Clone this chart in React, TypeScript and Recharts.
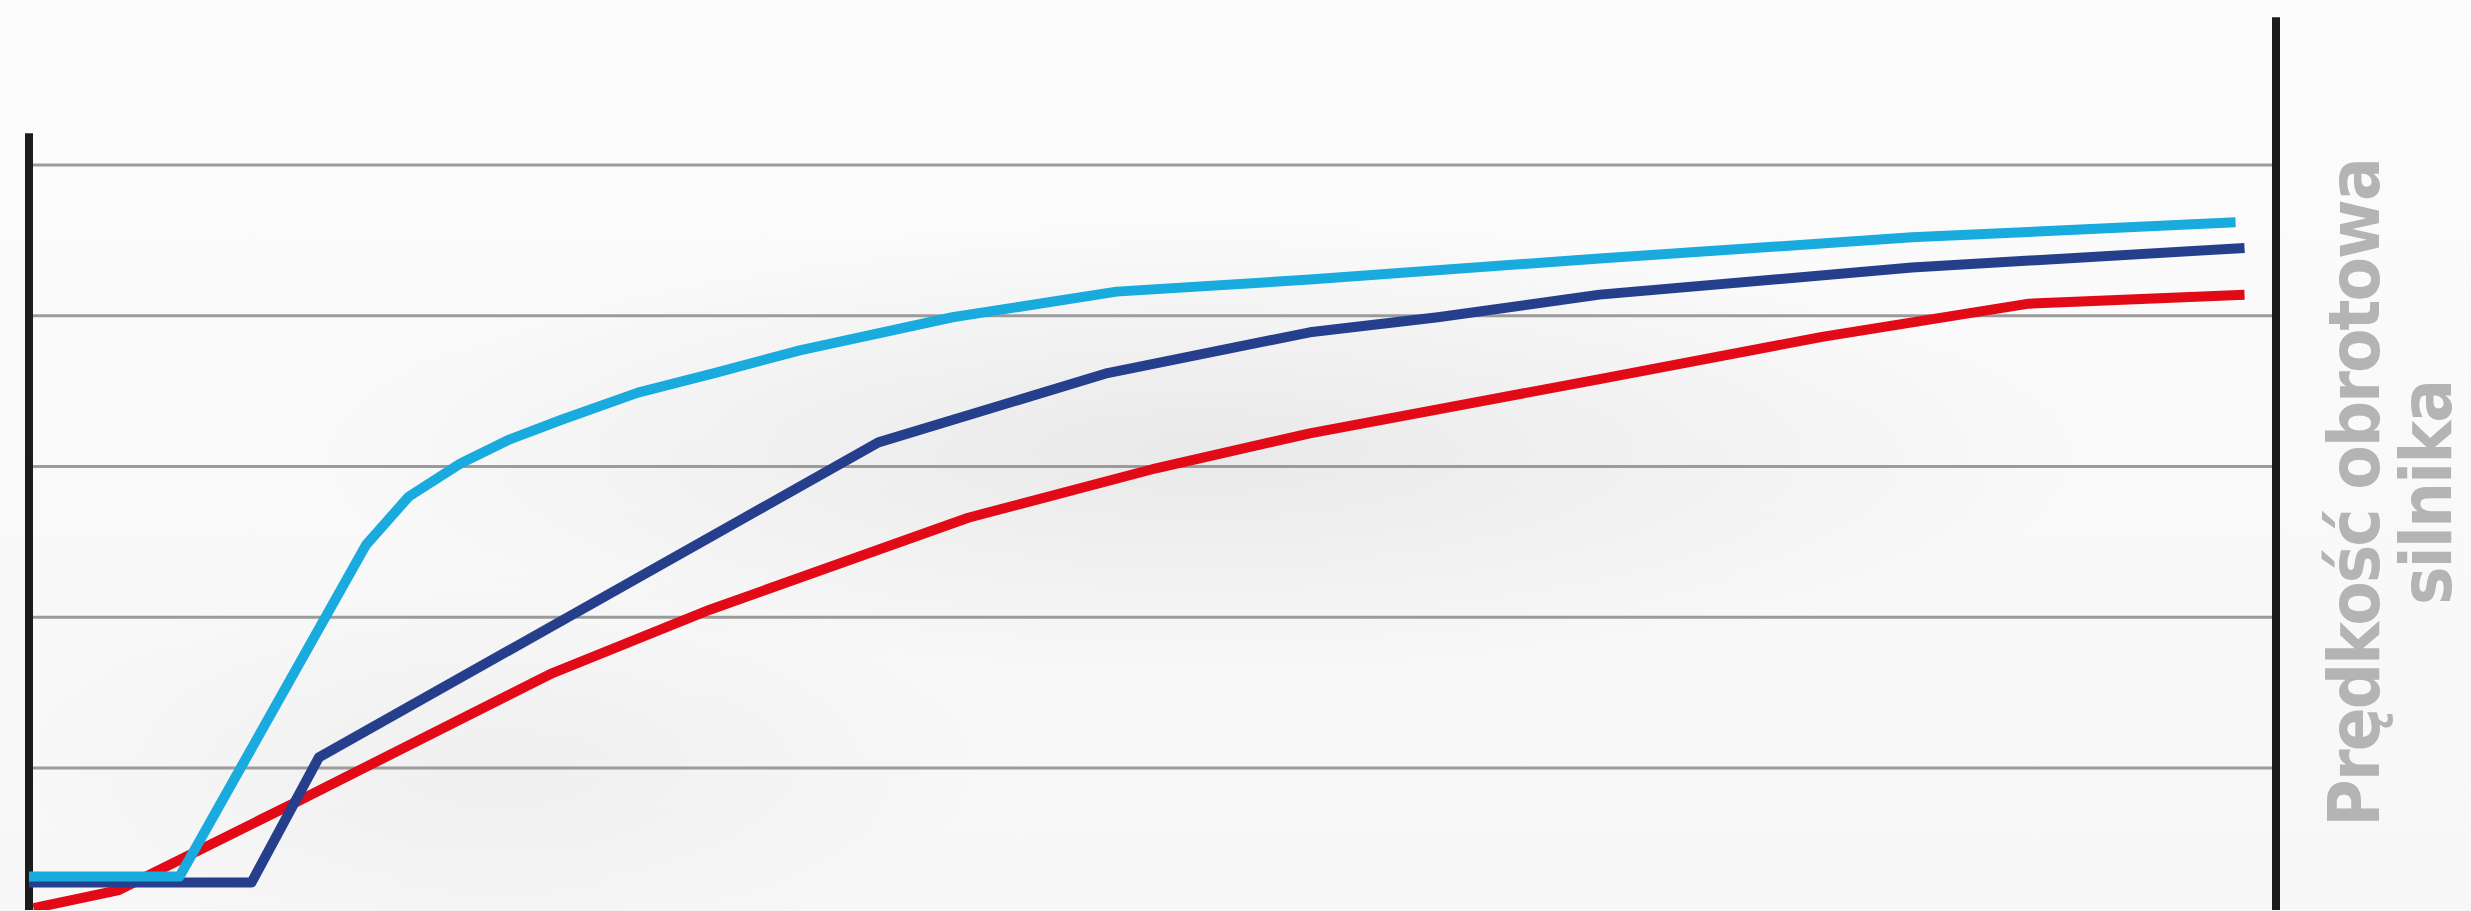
import React from "react";
import { LineChart, Line, XAxis, YAxis, ReferenceLine } from "recharts";

// Time axis (0–100) and speed values (grid units 1–5) for each response curve.
const lightBlueTime = [0, 6.7, 15.0, 16.9, 19.2, 21.4, 23.7, 27.1, 30.5, 34.3, 41.1, 48.4, 57.0, 69.9, 83.8, 98.2];
const lightBlueSpeed = [0.28, 0.28, 2.48, 2.8, 3.02, 3.18, 3.31, 3.49, 3.62, 3.77, 3.99, 4.16, 4.24, 4.38, 4.52, 4.62];

const darkBlueTime = [0, 9.9, 12.9, 37.8, 48.0, 57.0, 62.7, 69.9, 83.8, 98.6];
const darkBlueSpeed = [0.24, 0.24, 1.07, 3.16, 3.62, 3.89, 3.99, 4.14, 4.32, 4.45];

const redTime = [0.2, 4.0, 12.1, 23.3, 30.3, 41.8, 50.2, 57.0, 69.9, 79.8, 89.0, 98.6];
const redSpeed = [0.07, 0.19, 0.79, 1.63, 2.05, 2.66, 2.99, 3.22, 3.58, 3.86, 4.08, 4.14];

const gridValues = [1, 2, 3, 4, 5];
const yDomain: [number, number] = [0.058, 6];
const xDomain: [number, number] = [0, 100];
const leftAxisTop = 5.21;
const rightAxisTop = 5.98;

const axisTitleLines = ["Prędkość obrotowa", "silnika"];

// One row per time stamp; a series is left empty where it has no sample.
type Row = { t: number; lightBlue?: number; darkBlue?: number; red?: number };
const buildRows = (): Row[] => {
  const rows = new Map<number, Row>();
  const add = (key: "lightBlue" | "darkBlue" | "red", t: number[], v: number[]) =>
    t.forEach((time, i) => {
      const row = rows.get(time) ?? { t: time };
      row[key] = v[i];
      rows.set(time, row);
    });
  add("lightBlue", lightBlueTime, lightBlueSpeed);
  add("darkBlue", darkBlueTime, darkBlueSpeed);
  add("red", redTime, redSpeed);
  return Array.from(rows.values()).sort((a, b) => a.t - b.t);
};
const rows = buildRows();

const W = 2471;
const H = 911;

const lineProps = {
  type: "linear" as const,
  strokeWidth: 10,
  strokeLinejoin: "round" as const,
  connectNulls: true,
  dot: false,
  activeDot: false,
  isAnimationActive: false,
};

// Rotated axis title: baselines run vertically, text reads bottom to top.
const titleBaselinesX = [2379, 2451];
const titleCenterY = 493;

export default function App() {
  return (
    <div
      style={{
        position: "absolute",
        left: 0,
        top: 0,
        width: W,
        height: H,
        overflow: "hidden",
        background: [
          "radial-gradient(ellipse 900px 230px at 1200px 450px, rgba(0,0,0,0.065), rgba(0,0,0,0) 100%)",
          "radial-gradient(ellipse 500px 200px at 500px 760px, rgba(0,0,0,0.035), rgba(0,0,0,0) 100%)",
          "linear-gradient(180deg, #fcfcfc 0%, #f7f7f7 100%)",
        ].join(", "),
      }}
    >
      <LineChart
        width={W}
        height={H}
        data={rows}
        margin={{ top: 14.25, right: 195, bottom: 1, left: 29 }}
        style={{ position: "absolute", left: 0, top: 0 }}
      >
        <XAxis
          type="number"
          dataKey="t"
          domain={xDomain}
          allowDataOverflow
          tick={false}
          tickLine={false}
          height={0}
          axisLine={{ stroke: "#383838", strokeWidth: 4 }}
        />
        <YAxis
          type="number"
          domain={yDomain}
          allowDataOverflow
          tick={false}
          tickLine={false}
          axisLine={false}
          width={0}
        />
        {gridValues.map((g) => (
          <ReferenceLine key={g} y={g} stroke="#9b9b9b" strokeWidth={3} />
        ))}
        <ReferenceLine
          segment={[
            { x: xDomain[0], y: yDomain[0] },
            { x: xDomain[0], y: leftAxisTop },
          ]}
          stroke="#1c1c1c"
          strokeWidth={8}
        />
        <ReferenceLine
          segment={[
            { x: xDomain[1], y: yDomain[0] },
            { x: xDomain[1], y: rightAxisTop },
          ]}
          stroke="#1c1c1c"
          strokeWidth={8}
        />
        <Line {...lineProps} dataKey="red" stroke="#e20a17" />
        <Line {...lineProps} dataKey="darkBlue" stroke="#263f8c" />
        <Line {...lineProps} dataKey="lightBlue" stroke="#19abde" />
      </LineChart>
      <svg
        width={W}
        height={H}
        style={{ position: "absolute", left: 0, top: 0, pointerEvents: "none" }}
      >
        {axisTitleLines.map((line, i) => (
          <text
            key={line}
            x={titleBaselinesX[i]}
            y={titleCenterY}
            transform={`rotate(-90 ${titleBaselinesX[i]} ${titleCenterY})`}
            textAnchor="middle"
            fontFamily="'DejaVu Sans Condensed', 'DejaVu Sans', sans-serif"
            fontStretch="condensed"
            fontWeight={700}
            fontSize={72}
            letterSpacing={-2}
            fill="#b4b4b4"
          >
            {line}
          </text>
        ))}
      </svg>
    </div>
  );
}
